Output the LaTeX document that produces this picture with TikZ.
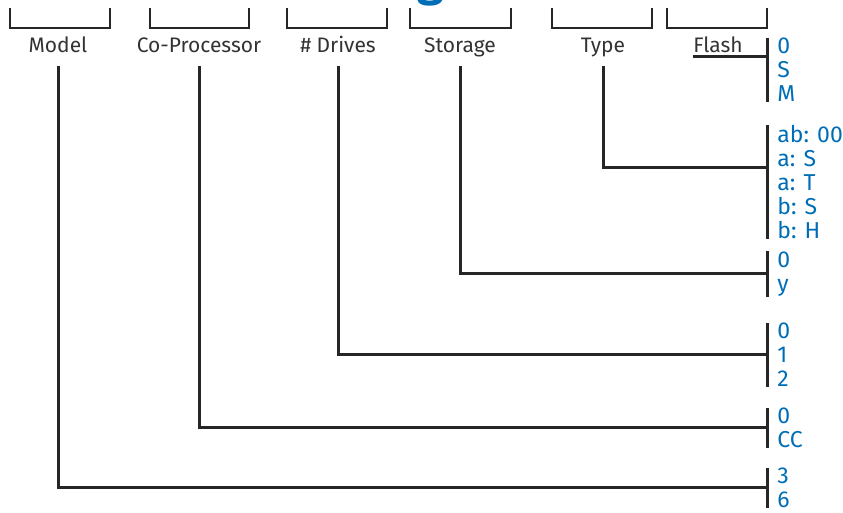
\documentclass[tikz,border=0pt]{standalone}
\usepackage{fontspec}
\setmainfont{Fira Sans}
\usetikzlibrary{positioning}
\definecolor{codeblue}{RGB}{0,110,182}
\colorlet{linegray}{black!85}

\begin{document}
\begin{tikzpicture}[x=0.5pt, y=-0.5pt,
    lbl/.style={anchor=base, inner xsep=0pt, inner ysep=4pt, text depth=2.5pt, text=black!80,
      font=\fontsize{10.5}{12}\selectfont},
    vals/.style={anchor=west, align=left, inner xsep=5pt, inner ysep=0pt, text=codeblue,
      font=\fontsize{11.5}{12}\selectfont},
    conn/.style={draw=linegray, line width=1.5pt},
    bar/.style={draw=linegray, line width=1.5pt}]
    \useasboundingbox (0,0) rectangle (843,513);

    % Title, cut off at the top
    \node[anchor=south, inner sep=0pt, text=codeblue, font=\fontsize{24}{24}\selectfont\bfseries]
      (title) at (431,7) {g};

    % Top brackets
    \foreach \a/\b in {10/110, 150/249, 287/387, 410/511, 552/652, 667/767}
      \draw[linegray, line width=1pt] (\a,8) |- (\b,28) -- (\b,8);

    % Field labels
    \node[lbl] (model) at (58,53) {Model};
    \node[lbl] (copro) at (199,53) {Co-Processor};
    \node[lbl] (drives) at (338,53) {\# Drives};
    \node[lbl] (storage) at (460,53) {Storage};
    \node[lbl] (type) at (603,53) {Type};
    \node[lbl] (flash) at (718,53) {Flash};

    % Possible values
    \node[vals] (vflash) at (767,70) {0\\S\\M};
    \node[vals] (vtype) at (767,182) {ab: 00\\a: S\\a: T\\b: S\\b: H};
    \node[vals] (vstorage) at (767,274) {0\\y};
    \node[vals] (vdrives) at (767,355) {0\\1\\2};
    \node[vals] (vcopro) at (767,428) {0\\CC};
    \node[vals] (vmodel) at (767,488) {3\\6};

    \foreach \v in {vflash, vtype, vstorage, vdrives, vcopro, vmodel}
      \draw[bar] (\v.north west) -- (\v.south west);

    % Connectors
    \coordinate (flashline) at ([yshift=-2pt]flash.base west);
    \draw[conn] (flashline) -- (flashline -| vflash.west);
    \coordinate (typejoin) at ([yshift=7pt]vtype.west);
    \draw[conn] (type.south) |- (typejoin);
    \draw[conn] (storage.south) |- (vstorage.west);
    \draw[conn] (drives.south) |- (vdrives.west);
    \draw[conn] (copro.south) |- (vcopro.west);
    \draw[conn] (model.south) |- (vmodel.west);
  \end{tikzpicture}
\end{document}
